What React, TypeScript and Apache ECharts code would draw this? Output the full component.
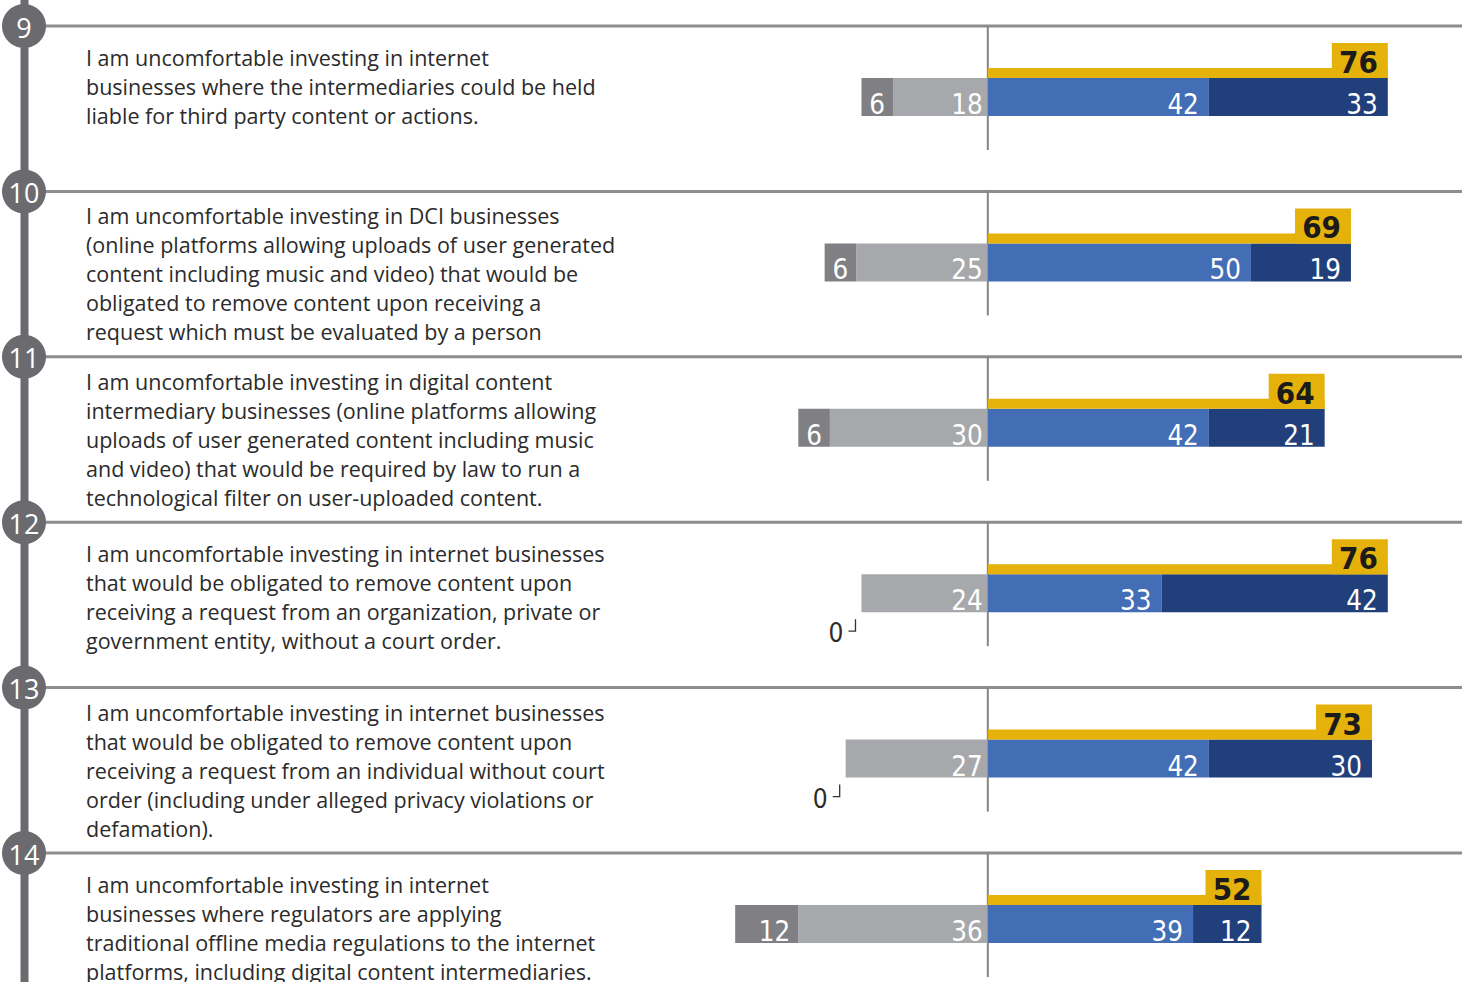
import React, { useEffect, useRef } from "react";
import * as echarts from "echarts";

const rowNumbers = ["9", "10", "11", "12", "13", "14"];
const statements = [
  "I am uncomfortable investing in internet\nbusinesses where the intermediaries could be held\nliable for third party content or actions.",
  "I am uncomfortable investing in DCI businesses\n(online platforms allowing uploads of user generated\ncontent including music and video) that would be\nobligated to remove content upon receiving a\nrequest which must be evaluated by a person",
  "I am uncomfortable investing in digital content\nintermediary businesses (online platforms allowing\nuploads of user generated content including music\nand video) that would be required by law to run a\ntechnological filter on user-uploaded content.",
  "I am uncomfortable investing in internet businesses\nthat would be obligated to remove content upon\nreceiving a request from an organization, private or\ngovernment entity, without a court order.",
  "I am uncomfortable investing in internet businesses\nthat would be obligated to remove content upon\nreceiving a request from an individual without court\norder (including under alleged privacy violations or\ndefamation).",
  "I am uncomfortable investing in internet\nbusinesses where regulators are applying\ntraditional offline media regulations to the internet\nplatforms, including digital content intermediaries.",
];
const stronglyDisagree = [6, 6, 6, 0, 0, 12];
const disagree = [18, 25, 30, 24, 27, 36];
const agree = [42, 50, 42, 33, 42, 39];
const stronglyAgree = [33, 19, 21, 42, 30, 12];
const totalAgree = [76, 69, 64, 76, 73, 52];

const C = {
  darkGray: "#808084",
  lightGray: "#a7a8ab",
  blue: "#436db4",
  navy: "#213f7b",
  yellow: "#e5b20b",
  rule: "#8d8d91",
  timeline: "#6b6b6f",
  zero: "#858585",
  text: "#2b2b2b",
};
const NARROW = '"Liberation Sans Narrow", "DejaVu Sans Condensed", "Roboto Condensed", sans-serif';
const BODY = '"Open Sans", "Noto Sans", sans-serif';

function txt(text: string, x: number, y: number, o: any) {
  return {
    type: "text",
    style: {
      text, x, y,
      align: o.align || "left", textAlign: o.align || "left",
      verticalAlign: o.va || "middle", textVerticalAlign: o.va || "middle",
      fill: o.fill, fontSize: o.size, fontFamily: o.family, fontWeight: o.weight || "normal",
      lineHeight: o.lineHeight,
    },
  };
}

function renderBars(params: any, api: any) {
  const row = api.value(0);
  const dg = api.value(1), lg = api.value(2), ag = api.value(3), sa = api.value(4), tot = api.value(5);
  const o = api.coord([0, row]);
  const L = o[1];
  const x0 = o[0];
  const X = (v: number) => api.coord([v, row])[0];
  const top = L + 52, h = 38;
  const ch: any[] = [];
  const pad = 8;
  const labelY = L + 78;
  const lab = (t: string, x: number) =>
    txt(t, x, labelY, { align: "right", fill: "#ffffff", size: 27.5, family: NARROW });
  ch.push({ type: "line", shape: { x1: x0, y1: L, x2: x0, y2: L + 124 }, style: { stroke: C.zero, lineWidth: 2 } });
  const xl1 = X(-lg);
  const xl2 = X(-(lg + dg));
  ch.push({ type: "rect", shape: { x: xl1, y: top, width: x0 - xl1, height: h }, style: { fill: C.lightGray } });
  ch.push(lab(String(lg), x0 - 5));
  if (dg > 0) {
    ch.push({ type: "rect", shape: { x: xl2, y: top, width: xl1 - xl2, height: h }, style: { fill: C.darkGray } });
    ch.push(lab(String(dg), xl1 - pad));
  } else {
    ch.push(txt("0", xl1 - 18, L + 111, { align: "right", fill: C.text, size: 26, family: NARROW }));
    ch.push({
      type: "polyline",
      shape: { points: [[xl1 - 6, L + 97], [xl1 - 6, L + 109], [xl1 - 13, L + 109]] },
      style: { stroke: "#333", lineWidth: 1.3, fill: "none" },
    });
  }
  const xr1 = X(ag);
  const xr2 = X(tot);
  ch.push({ type: "rect", shape: { x: x0, y: top, width: xr1 - x0, height: h }, style: { fill: C.blue } });
  ch.push({ type: "rect", shape: { x: xr1, y: top, width: xr2 - xr1, height: h }, style: { fill: C.navy } });
  ch.push(lab(String(ag), xr1 - pad - 2));
  ch.push(lab(String(sa), xr2 - pad - 2));
  ch.push({ type: "rect", shape: { x: x0, y: L + 42, width: xr2 - x0, height: 10 }, style: { fill: C.yellow } });
  ch.push({ type: "rect", shape: { x: xr2 - 56, y: L + 17, width: 56, height: 35 }, style: { fill: C.yellow } });
  ch.push(txt(String(tot), xr2 - 10, L + 36, { align: "right", fill: "#1b1b1b", size: 31, family: NARROW, weight: "bold" }));
  return { type: "group", children: ch };
}

function renderRowDecor(params: any, api: any) {
  const i = params.dataIndex;
  const row = api.value(0);
  const L = api.coord([0, row])[1];
  const lines = statements[i].split("\n").length;
  const ch: any[] = [];
  ch.push({ type: "rect", shape: { x: 45, y: L - 1.5, width: 1417, height: 3 }, style: { fill: C.rule } });
  ch.push({ type: "circle", shape: { cx: 24, cy: L, r: 22 }, style: { fill: C.timeline } });
  ch.push(txt(rowNumbers[i], 24, L + 1, { align: "center", fill: "#ffffff", size: 27, family: BODY }));
  ch.push(txt(statements[i], 86, L + (lines >= 5 ? 10 : 16.5), { align: "left", va: "top", fill: C.text, size: 21.5, family: BODY, lineHeight: 29 }));
  return { type: "group", children: ch };
}

export default function App() {
  const ref = useRef<HTMLDivElement>(null);
  useEffect(() => {
    if (!ref.current) return;
    const chart = echarts.init(ref.current, null, { renderer: "svg" });
    const rows = rowNumbers.map((_, i) => i);
    chart.setOption({
      animation: false,
      grid: { left: 672, width: 789.5, top: 0, height: 982 },
      xAxis: { type: "value", min: -60, max: 90, show: false },
      yAxis: { type: "value", inverse: true, min: -0.1572, max: 5.7799, show: false },
      graphic: [
        { type: "rect", z: 0, shape: { x: 20.5, y: 0, width: 8, height: 982 }, style: { fill: C.timeline } },
      ],
      series: [
        {
          type: "custom",
          z: 3,
          silent: true,
          renderItem: renderRowDecor,
          data: rows.map((r) => [r]),
        },
        {
          type: "custom",
          z: 4,
          silent: true,
          renderItem: renderBars,
          data: rows.map((r) => [r, stronglyDisagree[r], disagree[r], agree[r], stronglyAgree[r], totalAgree[r]]),
        },
      ],
    });
    return () => chart.dispose();
  }, []);
  return <div ref={ref} style={{ position: "absolute", left: 0, top: 0, width: 1466, height: 982, background: "#fff" }} />;
}
